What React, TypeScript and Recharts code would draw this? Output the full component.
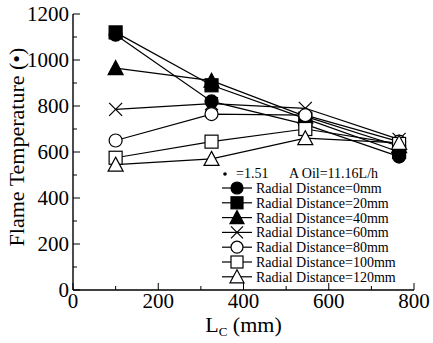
import React from 'react';
import { LineChart, Line, XAxis, YAxis, Legend } from 'recharts';

const lcValues = [100, 325, 545, 765];
const radial0 = [1110, 820, 720, 580];
const radial20 = [1120, 890, 745, 600];
const radial40 = [965, 910, 755, 625];
const radial60 = [785, 810, 790, 655];
const radial80 = [650, 765, 760, 645];
const radial100 = [575, 645, 700, 635];
const radial120 = [545, 570, 660, 640];

const xTicks = [0, 100, 200, 300, 400, 500, 600, 700, 800];
const yTicks = [0, 100, 200, 300, 400, 500, 600, 700, 800, 900, 1000, 1100, 1200];

const FONT = '"Liberation Serif", "DejaVu Serif", serif';

const seriesList = [
  { key: 'r0', label: 'Radial Distance=0mm', values: radial0, marker: 'circleF' },
  { key: 'r20', label: 'Radial Distance=20mm', values: radial20, marker: 'squareF' },
  { key: 'r40', label: 'Radial Distance=40mm', values: radial40, marker: 'triF' },
  { key: 'r60', label: 'Radial Distance=60mm', values: radial60, marker: 'cross' },
  { key: 'r80', label: 'Radial Distance=80mm', values: radial80, marker: 'circleO' },
  { key: 'r100', label: 'Radial Distance=100mm', values: radial100, marker: 'squareO' },
  { key: 'r120', label: 'Radial Distance=120mm', values: radial120, marker: 'triO' },
];

const data = lcValues.map((lc, i) => {
  const row: Record<string, number> = { lc };
  seriesList.forEach(s => { row[s.key] = s.values[i]; });
  return row;
});

const drawMarker = (kind: string, cx: number, cy: number, s: number, key?: string | number) => {
  const filled = kind.endsWith('F');
  const fill = filled ? '#000' : '#fff';
  const h = s / 2;
  if (kind.startsWith('circle')) {
    return <circle key={key} cx={cx} cy={cy} r={h} fill={fill} stroke="#000" strokeWidth={1.2} />;
  }
  if (kind.startsWith('square')) {
    return <rect key={key} x={cx - h} y={cy - h} width={s} height={s} fill={fill} stroke="#000" strokeWidth={1.2} />;
  }
  if (kind.startsWith('tri')) {
    const pts = `${cx},${cy - h - 1} ${cx + h + 1},${cy + h} ${cx - h - 1},${cy + h}`;
    return <polygon key={key} points={pts} fill={fill} stroke="#000" strokeWidth={1.2} />;
  }
  return (
    <g key={key}>
      <line x1={cx - h} y1={cy - h} x2={cx + h} y2={cy + h} stroke="#000" strokeWidth={1.2} />
      <line x1={cx - h} y1={cy + h} x2={cx + h} y2={cy - h} stroke="#000" strokeWidth={1.2} />
    </g>
  );
};

const makeDot = (kind: string) => (props: any) => {
  const { cx, cy, index } = props;
  return drawMarker(kind, cx, cy, 13, `${kind}-${index}`);
};

const BottomTick = (props: any) => {
  const { x, y, payload } = props;
  const major = payload.value % 200 === 0;
  return (
    <g>
      <line x1={x} y1={y} x2={x} y2={y - (major ? 7 : 4)} stroke="#000" strokeWidth={1} />
      {major && (
        <text x={x} y={y + 18} textAnchor="middle" fontFamily={FONT} fontSize={21} fill="#000">
          {payload.value}
        </text>
      )}
    </g>
  );
};

const TopTick = (props: any) => {
  const { x, y, payload } = props;
  const major = payload.value % 200 === 0;
  return <line x1={x} y1={y} x2={x} y2={y + (major ? 7 : 4)} stroke="#000" strokeWidth={1} />;
};

const LeftTick = (props: any) => {
  const { x, y, payload } = props;
  const major = payload.value % 200 === 0;
  return (
    <g>
      <line x1={x} y1={y} x2={x + (major ? 7 : 4)} y2={y} stroke="#000" strokeWidth={1} />
      {major && (
        <text x={x - 4} y={y + 7} textAnchor="end" fontFamily={FONT} fontSize={21} fill="#000">
          {payload.value}
        </text>
      )}
    </g>
  );
};

const RightTick = (props: any) => {
  const { x, y, payload } = props;
  const major = payload.value % 200 === 0;
  return <line x1={x} y1={y} x2={x - (major ? 7 : 4)} y2={y} stroke="#000" strokeWidth={1} />;
};

const LegendBox = () => (
  <svg width={433} height={343} style={{ position: 'absolute', left: 0, top: 0 }}>
    <circle cx={225} cy={174} r={1.8} fill="#000" />
    <text x={236} y={178} fontFamily={FONT} fontSize={14} fill="#000">=1.51</text>
    <text x={289} y={178} fontFamily={FONT} fontSize={14} fill="#000">A Oil=11.16L/h</text>
    {seriesList.map((s, i) => {
      const cy = 188 + i * 14.8;
      return (
        <g key={s.key}>
          <line x1={222} y1={cy} x2={252} y2={cy} stroke="#000" strokeWidth={1.2} />
          {drawMarker(s.marker, 237, cy, 12)}
          <text x={256} y={cy + 5} fontFamily={FONT} fontSize={14} fill="#000">{s.label}</text>
        </g>
      );
    })}
  </svg>
);

export default function App() {
  return (
    <div style={{ position: 'absolute', left: 0, top: 0, width: 433, height: 343, background: '#fff' }}>
      <LineChart width={433} height={343} data={data} margin={{ top: 14, right: 19, bottom: 0, left: 0 }}>
        <XAxis
          dataKey="lc"
          type="number"
          domain={[0, 800]}
          ticks={xTicks}
          interval={0}
          height={53}
          tickSize={0}
          tickMargin={0}
          tickLine={false}
          tick={BottomTick}
          axisLine={{ stroke: '#000', strokeWidth: 1.4 }}
          label={{
            content: (p: any) => {
              const vb = p.viewBox || { x: 73, y: 290, width: 341 };
              const cx = vb.x + vb.width / 2;
              return (
                <text x={cx} y={vb.y + 42} textAnchor="middle" fontFamily={FONT} fontSize={22} fill="#000">
                  <tspan>L</tspan>
                  <tspan fontSize={13} dy={4}>C</tspan>
                  <tspan dy={-4}> (mm)</tspan>
                </text>
              );
            },
          }}
        />
        <XAxis
          xAxisId="top"
          dataKey="lc"
          type="number"
          orientation="top"
          domain={[0, 800]}
          ticks={xTicks}
          interval={0}
          height={0}
          tickSize={0}
          tickMargin={0}
          tickLine={false}
          tick={TopTick}
          axisLine={{ stroke: '#000', strokeWidth: 1.4 }}
        />
        <YAxis
          type="number"
          domain={[0, 1200]}
          ticks={yTicks}
          interval={0}
          width={73}
          tickSize={0}
          tickMargin={0}
          tickLine={false}
          tick={LeftTick}
          axisLine={{ stroke: '#000', strokeWidth: 1.4 }}
          label={{
            content: () => (
              <text
                x={24}
                y={147}
                transform="rotate(-90 24 147)"
                textAnchor="middle"
                fontFamily={FONT}
                fontSize={22}
                fill="#000"
              >
                Flame Temperature (•)
              </text>
            ),
          }}
        />
        <YAxis
          yAxisId="right"
          type="number"
          orientation="right"
          domain={[0, 1200]}
          ticks={yTicks}
          interval={0}
          width={0}
          tickSize={0}
          tickMargin={0}
          tickLine={false}
          tick={RightTick}
          axisLine={{ stroke: '#000', strokeWidth: 1.4 }}
        />
        {seriesList.map(s => (
          <Line
            key={s.key}
            dataKey={s.key}
            type="linear"
            stroke="#000"
            strokeWidth={1.2}
            dot={makeDot(s.marker)}
            activeDot={false}
            isAnimationActive={false}
          />
        ))}
        <Legend
          layout="vertical"
          align="center"
          verticalAlign="middle"
          wrapperStyle={{ position: 'absolute', left: 0, top: 0, width: 433, height: 343, pointerEvents: 'none' }}
          content={LegendBox}
        />
      </LineChart>
    </div>
  );
}
